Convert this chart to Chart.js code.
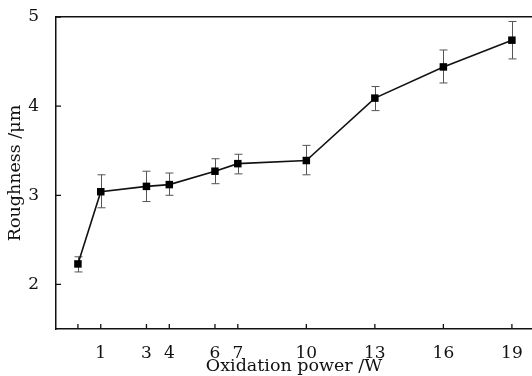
<!DOCTYPE html>
<html>
<head>
<meta charset="utf-8">
<script src="https://cdn.jsdelivr.net/npm/chart.js@4.4.1/dist/chart.umd.min.js"></script>
<style>
    html, body { margin: 0; padding: 0; background: #fff; }
    #wrap { width: 532px; height: 376px; position: relative; }
</style>
</head>
<body>
<div id="wrap"><canvas id="roughness_graph"></canvas></div>
<script>
const powers = [0, 1, 3, 4, 6, 7, 10, 13, 16, 19];
const roughness = [2.23, 3.04, 3.10, 3.12, 3.27, 3.355, 3.39, 4.09, 4.44, 4.74];
const errUpper = [2.31, 3.23, 3.27, 3.25, 3.41, 3.46, 3.56, 4.22, 4.63, 4.95];
const errLower = [2.14, 2.86, 2.93, 3.00, 3.13, 3.24, 3.23, 3.95, 4.26, 4.53];
const xTicks = [0, 1, 3, 4, 6, 7, 10, 13, 16, 19];
const xTickLabels = ['', '1', '3', '4', '6', '7', '10', '13', '16', '19'];
const yTicks = [2, 3, 4, 5];

const serif = '"DejaVu Serif", "Liberation Serif", serif';

// error bars and inward ticks
const errorBars = {
    id: 'errorBars',
    beforeDatasetsDraw(chart) {
        const ctx = chart.ctx;
        const x = chart.scales.x;
        const y = chart.scales.y;
        ctx.save();
        ctx.strokeStyle = '#555';
        ctx.lineWidth = 1;
        powers.forEach(function (p, i) {
            const px = Math.round(x.getPixelForValue(p)) + 0.5;
            const top = y.getPixelForValue(errUpper[i]);
            const bot = y.getPixelForValue(errLower[i]);
            ctx.beginPath();
            ctx.moveTo(px, top);
            ctx.lineTo(px, bot);
            ctx.moveTo(px - 4, top);
            ctx.lineTo(px + 4, top);
            ctx.moveTo(px - 4, bot);
            ctx.lineTo(px + 4, bot);
            ctx.stroke();
        });
        ctx.restore();
    },
    afterDraw(chart) {
        const ctx = chart.ctx;
        const area = chart.chartArea;
        const x = chart.scales.x;
        const y = chart.scales.y;
        ctx.save();
        ctx.strokeStyle = '#111';
        ctx.lineWidth = 1.3;
        ctx.beginPath();
        xTicks.forEach(function (t) {
            const px = x.getPixelForValue(t);
            ctx.moveTo(px, area.bottom);
            ctx.lineTo(px, area.bottom - 5);
        });
        yTicks.forEach(function (t) {
            const py = y.getPixelForValue(t);
            ctx.moveTo(area.left, py);
            ctx.lineTo(area.left + 5, py);
        });
        ctx.stroke();
        ctx.restore();
    }
};

new Chart(document.getElementById('roughness_graph'), {
    type: 'line',
    data: {
        datasets: [{
            label: 'Roughness',
            data: powers.map(function (p, i) {
                return { x: p, y: roughness[i] };
            }),
            borderColor: '#111',
            backgroundColor: '#000',
            borderWidth: 1.6,
            pointStyle: 'rect',
            pointRadius: 5.3,
            pointBorderWidth: 0,
            tension: 0,
            clip: false
        }]
    },
    options: {
        responsive: true,
        maintainAspectRatio: false,
        animation: false,
        layout: {
            autoPadding: false,
            padding: { top: 17, right: 0, left: 0, bottom: 0 }
        },
        plugins: {
            legend: { display: false },
            tooltip: { enabled: false }
        },
        scales: {
            x: {
                type: 'linear',
                min: -0.96,
                max: 19.88,
                afterBuildTicks: function (axis) {
                    axis.ticks = xTicks.map(function (v) { return { value: v }; });
                },
                afterFit: function (axis) {
                    axis.height = 47;
                    axis.paddingLeft = 0;
                    axis.paddingRight = 0;
                },
                grid: { display: false },
                border: { display: true, color: '#111', width: 1.5 },
                ticks: {
                    color: '#111',
                    padding: 6,
                    maxRotation: 0,
                    autoSkip: false,
                    font: { family: serif, size: 17 },
                    callback: function (value) {
                        return xTickLabels[xTicks.indexOf(value)];
                    }
                },
                title: {
                    display: true,
                    text: 'Oxidation power /W',
                    color: '#111',
                    padding: { top: 0, bottom: -1 },
                    font: { family: serif, size: 17.5 }
                }
            },
            x2: {
                type: 'linear',
                position: 'top',
                min: -0.96,
                max: 19.88,
                grid: { display: false },
                border: { display: true, color: '#111', width: 1.5 },
                ticks: { display: false },
                afterFit: function (axis) {
                    axis.height = 0;
                    axis.paddingLeft = 0;
                    axis.paddingRight = 0;
                }
            },
            y: {
                min: 1.5,
                max: 5,
                afterBuildTicks: function (axis) {
                    axis.ticks = yTicks.map(function (v) { return { value: v }; });
                },
                afterFit: function (axis) {
                    axis.width = 56;
                    axis.paddingTop = 0;
                    axis.paddingBottom = 0;
                },
                grid: { display: false },
                border: { display: true, color: '#111', width: 1.5 },
                ticks: {
                    color: '#111',
                    padding: 9,
                    font: { family: serif, size: 17 }
                },
                title: {
                    display: true,
                    text: 'Roughness /μm',
                    color: '#111',
                    padding: { top: 5, bottom: 0 },
                    font: { family: serif, size: 17.5 }
                }
            }
        }
    },
    plugins: [errorBars]
});
</script>
</body>
</html>
